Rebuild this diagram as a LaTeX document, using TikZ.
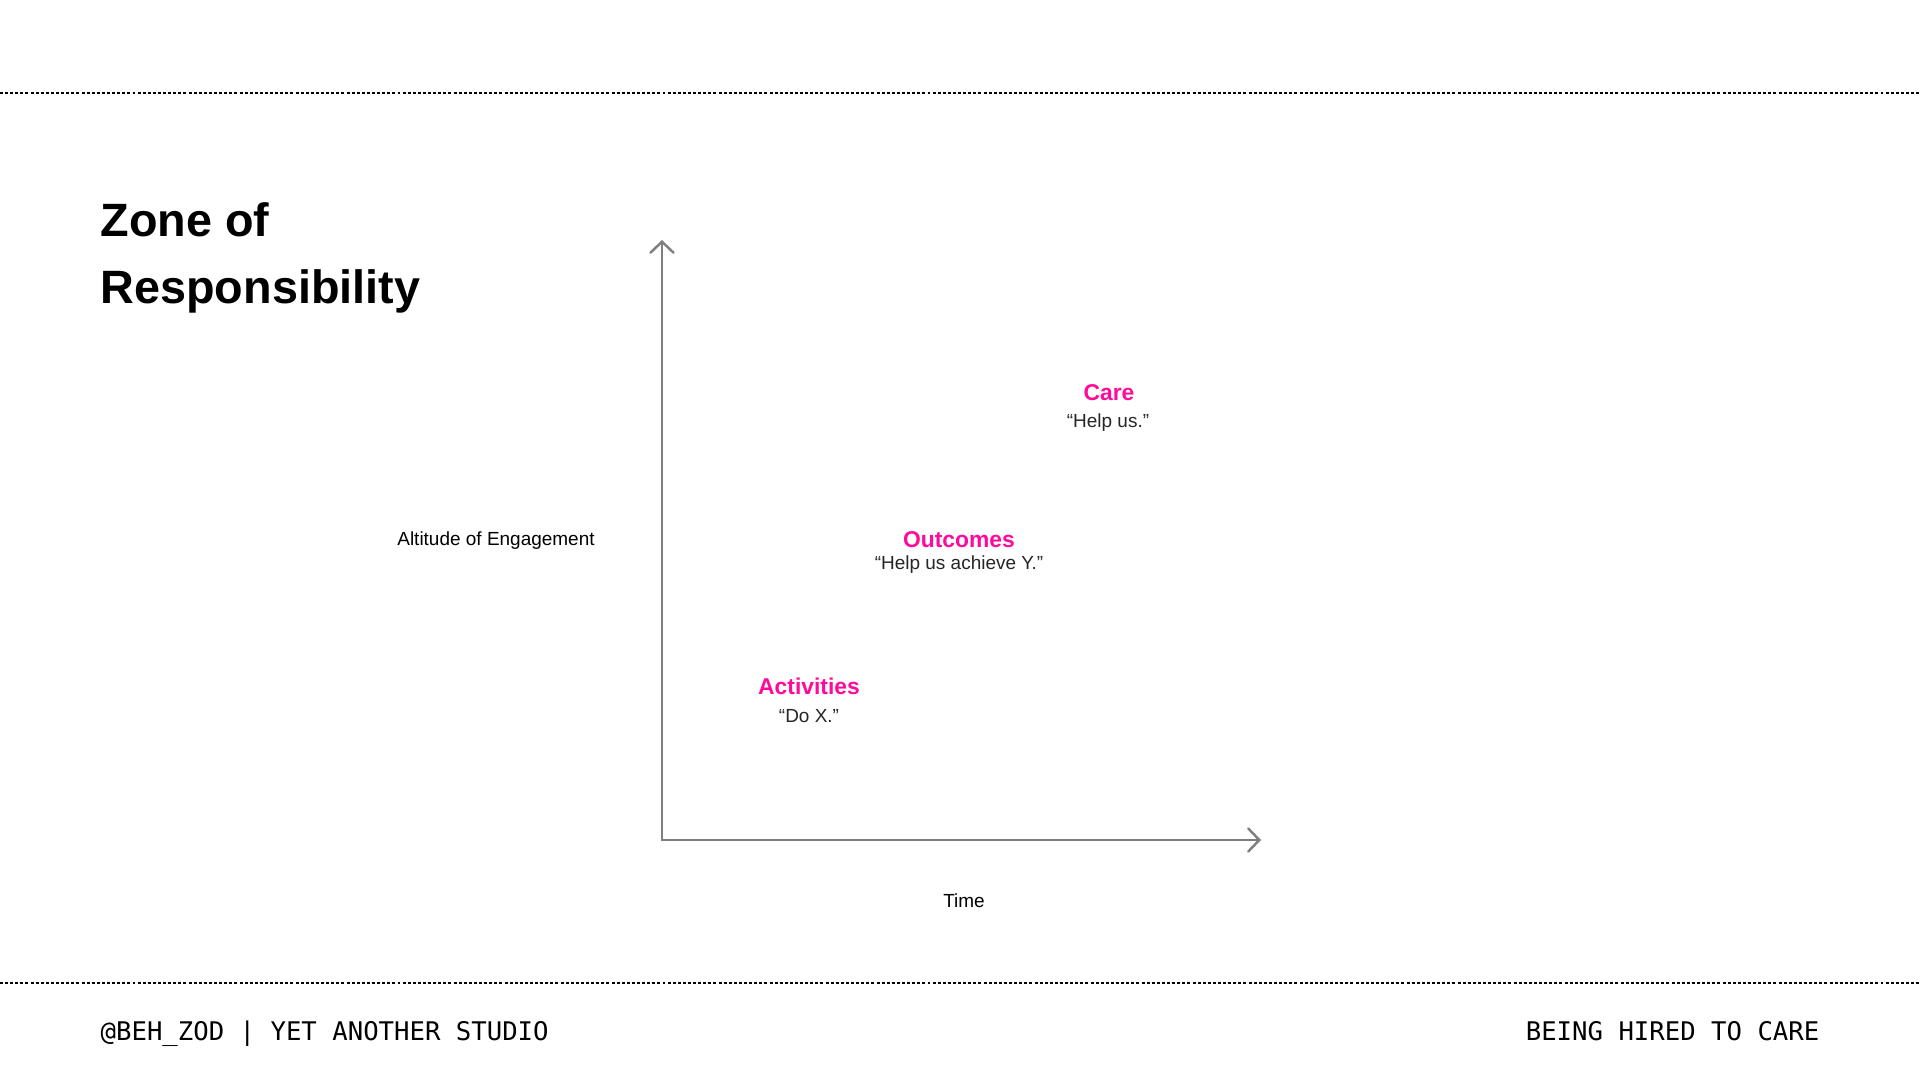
\documentclass[tikz,border=0pt]{standalone}
\usepackage{fontspec}
\setmainfont{Liberation Sans}
\newfontfamily\footfont{DejaVu Sans Mono}
\usetikzlibrary{arrows.meta}
\definecolor{hotpink}{HTML}{FF0A9B}
\definecolor{axisgray}{HTML}{7F7F7F}

\begin{document}
\begin{tikzpicture}[
  zonehead/.style = {font = \fontsize{6.5}{7.5}\selectfont\bfseries, text = hotpink, inner sep = 0pt},
  zonequote/.style = {font = \fontsize{5.4}{6.5}\selectfont, text = black!85, inner sep = 0pt},
  axislabel/.style = {font = \fontsize{5.4}{6.5}\selectfont, inner sep = 0pt},
  titleline/.style = {font = \fontsize{13.3}{16}\selectfont\bfseries, anchor = base west, inner sep = 0pt},
  footline/.style = {font = \footfont\fontsize{7.3}{8.5}\selectfont, inner sep = 0pt},
  rule/.style = {line width = 0.35pt, dash pattern = on 0.85pt off 0.6pt},
  axis/.style = {draw = axisgray, line width = 0.7pt, line cap = round,
    >={Straight Barb[length = 1.1mm, width = 2.3mm, line cap = round]}}]
\fill[white] (0, 0) rectangle (19.2, 10.8);
\useasboundingbox (0, 0) rectangle (19.2, 10.8);
% dotted rules top and bottom
\coordinate (topl) at (0, 9.87);
\coordinate (topr) at (19.2, 9.87);
\coordinate (botl) at (0, 0.97);
\coordinate (botr) at (19.2, 0.97);
\draw[rule] (topl)--(topr);
\draw[rule] (botl)--(botr);
% title
\node[titleline] (title) at (1.0, 8.43) {Zone of};
\node[titleline] (title2) at (1.0, 7.76) {Responsibility};
% axes
\coordinate (origin) at (6.62, 2.40);
\coordinate (ytop) at (6.62, 8.40);
\coordinate (xend) at (12.61, 2.40);
\draw[axis, <->] (ytop)--(origin)--(xend);
\node[axislabel] (altitude) at (4.96, 5.39) {Altitude of Engagement};
\node[axislabel] (time) at (9.64, 1.79) {Time};
% zones
\node[zonehead] (care) at (11.09, 6.87) {Care};
\node[zonequote] (careq) at (11.08, 6.57) {``Help us.''};
\node[zonehead] (outcomes) at (9.59, 5.40) {Outcomes};
\node[zonequote] (outcomesq) at (9.59, 5.15) {``Help us achieve Y.''};
\node[zonehead] (activities) at (8.09, 3.94) {Activities};
\node[zonequote] (activitiesq) at (8.09, 3.64) {``Do X.''};
% footer
\node[footline, anchor = base west] (handle) at (1.0, 0.39) {@BEH\_ZOD | YET ANOTHER STUDIO};
\node[footline, anchor = base east] (topic) at (18.2, 0.39) {BEING HIRED TO CARE};
\end{tikzpicture}
\end{document}
